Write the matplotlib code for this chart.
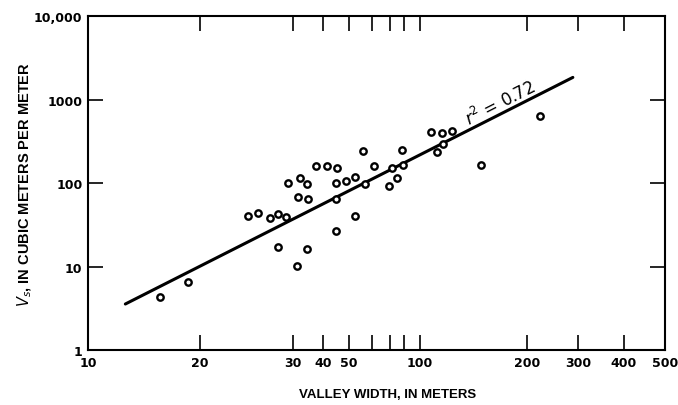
import numpy as np
import matplotlib
matplotlib.use("Agg")
import matplotlib.pyplot as plt
from matplotlib.ticker import FixedLocator, FixedFormatter, NullFormatter

# ----------------------------
# Data
# ----------------------------
valley_width = [15.6, 18.6, 24.7, 25.8, 27.1, 28.1, 29.1, 28.1, 29.3, 31.4,
                32.2, 34.2, 34.7, 31.2, 34.3, 37.3, 41.5, 45.3, 44.8, 48.7,
                52.4, 44.7, 44.8, 52.5, 56.8, 56.0, 61.3, 69.2, 71.4, 75.0,
                78.7, 79.0, 107.2, 115.5, 123.0, 116.3, 111.9, 148.2, 222.3]
volume = [4.36, 6.49, 40.8, 44.0, 38.3, 42.4, 39.6, 17.1, 99.8, 67.5,
          114, 98, 64.4, 10.3, 16.3, 159, 160, 152, 101, 106,
          119, 64.4, 27.0, 40.1, 97.1, 246, 159, 92.2, 152, 115,
          253, 164, 415, 401, 418, 293, 234, 166, 635]

# regression line end points
fit_x = [12.6, 288]
fit_y = [3.56, 1860]

x_ticks = [10, 20, 30, 40, 50, 100, 200, 300, 400, 500]
x_minor = [60, 70, 80]
y_ticks = [1, 10, 100, 1000, 10000]
y_labels = ["1", "10", "100", "1000", "10,000"]

# ----------------------------
# Log axis as drawn in the original (spacing is not quite uniform)
# ----------------------------
anchor_x = [10, 20, 30, 40, 50, 60, 70, 80, 100, 200, 300, 400, 500]
anchor_px = [0, 112, 205, 235, 261, 284, 302, 316, 332, 439, 490, 536, 577]

la = np.r_[-6, np.log10(anchor_x), 6]
lp = np.r_[-7 * 340, anchor_px, 577 + (6 - np.log10(500)) * 340]


def fwd(x):
    x = np.clip(np.asarray(x, dtype=float), 1e-6, 1e6)
    return np.interp(np.log10(x), la, lp)


def inv(p):
    return 10 ** np.interp(np.asarray(p, dtype=float), lp, la)


# ----------------------------
# Plot
# ----------------------------
fig = plt.figure(figsize=(6.78, 4.06), dpi=100)
ax = fig.add_axes([0.1298, 0.1355, 0.851, 0.8214])

ax.plot(fit_x, fit_y, color="black", lw=2.2, solid_capstyle="round")
ax.plot(valley_width, volume, "o", ms=4.6, mfc="white", mec="black", mew=1.7)

ax.set_xscale("function", functions=(fwd, inv))
ax.set_yscale("log")
ax.set_xlim(10, 500)
ax.set_ylim(1, 10000)

tick_font = dict(family=["DejaVu Sans"], weight="bold", size=9)
ax.xaxis.set_major_locator(FixedLocator(x_ticks))
ax.xaxis.set_major_formatter(FixedFormatter([str(v) for v in x_ticks]))
ax.xaxis.set_minor_locator(FixedLocator(x_minor))
ax.xaxis.set_minor_formatter(NullFormatter())
ax.yaxis.set_major_locator(FixedLocator(y_ticks))
ax.yaxis.set_major_formatter(FixedFormatter(y_labels))
ax.yaxis.set_minor_locator(FixedLocator([]))
for lab in ax.get_xticklabels() + ax.get_yticklabels():
    lab.set_fontproperties(matplotlib.font_manager.FontProperties(**tick_font))

ax.tick_params(which="both", direction="in", top=True, right=True,
               length=11, width=1.2, pad=4)
for s in ax.spines.values():
    s.set_linewidth(1.5)

ax.set_xlabel("VALLEY WIDTH, IN METERS", family=["Liberation Sans", "DejaVu Sans"],
              weight="bold", size=9.5)
ax.xaxis.set_label_coords(0.52, -0.115)
ax.set_ylabel(r"$V_s$, IN CUBIC METERS PER METER", family=["Liberation Sans", "DejaVu Sans"],
              weight="bold", size=10.5)
ax.yaxis.set_label_coords(-0.093, 0.5)

ax.text(168, 918, r"$r^2$ = 0.72", rotation=27, rotation_mode="anchor",
        ha="center", va="center", size=12, family=["DejaVu Sans"])

fig.savefig("out.png", dpi=100)
